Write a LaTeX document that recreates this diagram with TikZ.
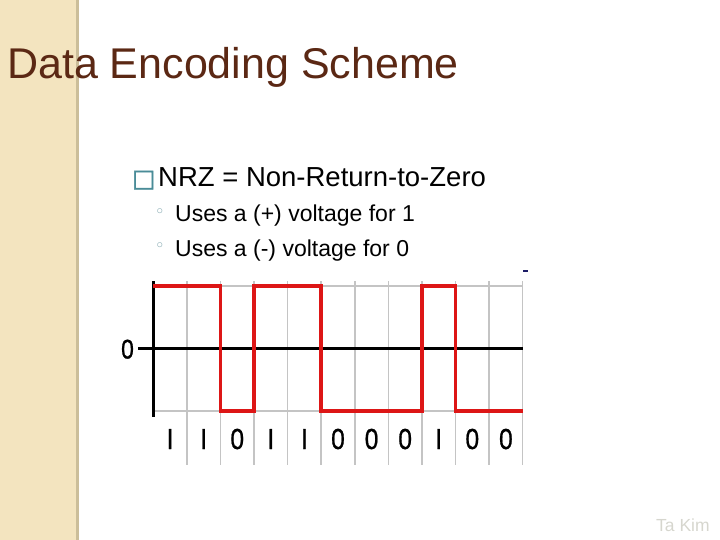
\documentclass[tikz,border=0pt]{standalone}
\usepackage{fontspec}
\setmainfont{Liberation Sans}
\newfontfamily\dejavu{DejaVu Sans}
\newfontfamily\dejavubold[FakeBold=1.5]{DejaVu Sans}
\newfontfamily\bitfont[FakeBold=0.9]{Liberation Sans}
\definecolor{barfill}{HTML}{F3E4BF}
\definecolor{baredge}{HTML}{CBBE9A}
\definecolor{titlebrown}{HTML}{5B2814}
\definecolor{boxteal}{HTML}{4A8C98}
\definecolor{bulletgrey}{HTML}{7FA4AC}
\definecolor{gridgrey}{HTML}{C4C4C4}
\definecolor{wavered}{HTML}{DD1616}
\definecolor{footgrey}{HTML}{D6D6CE}
\definecolor{dashnavy}{HTML}{1C1C66}
\tikzset{
  txt/.style={anchor=base west, inner sep=0pt},
  bittxt/.style={anchor=base, inner sep=0pt, xscale=0.85, font=\fontsize{29}{34}\bitfont},
  gridline/.style={gridgrey, line width=1.6pt},
  axisline/.style={black, line width=3.5pt},
  waveline/.style={wavered, line width=3.6pt, line join=miter},
}
\begin{document}
\begin{tikzpicture}[x=1pt,y=-1pt]
\useasboundingbox (0,0) rectangle (720,540);
% left bar
\fill[barfill] (0,0) rectangle (77,540);
\fill[baredge] (76,0) rectangle (79,540);
% title
\node[txt, font=\fontsize{43}{50}\selectfont, text=titlebrown] (title) at (7,79) {Data Encoding Scheme};
% bullet text
\node[txt, font=\fontsize{24.5}{28}\dejavubold, text=boxteal] (sq) at (132,186.5) {□};
\node[txt, font=\fontsize{27.5}{33}\selectfont] (nrz) at (158,187) {NRZ = Non-Return-to-Zero};
\node[inner sep=0pt, font=\fontsize{17}{20}\dejavu, text=bulletgrey] (bul1) at (160,213.5) {◦};
\node[inner sep=0pt, font=\fontsize{17}{20}\dejavu, text=bulletgrey] (bul2) at (160,247.5) {◦};
\node[txt, font=\fontsize{23}{28}\selectfont] (use1) at (175,222) {Uses a (+) voltage for 1};
\node[txt, font=\fontsize{23}{28}\selectfont] (use0) at (175,256) {Uses a (-) voltage for 0};
% waveform grid
\pgfmathsetmacro{\xa}{153.3}
\pgfmathsetmacro{\cw}{33.58}
\foreach \i in {1,...,11}{
  \draw[gridline] ({\xa+\i*\cw},281) -- ({\xa+\i*\cw},465);
}
\draw[gridline] (\xa,285.7) -- (522.7,285.7);
\draw[gridline] (\xa,410.7) -- (522.7,410.7);
% axes
\draw[axisline] (138,348.3) -- (522.7,348.3);
\draw[axisline] (\xa,281) -- (\xa,417);
\node[bittxt, font=\fontsize{27}{32}\bitfont] (zero) at (127.5,358.5) {0};
% NRZ wave
\draw[waveline] (\xa,285.7) -- ({\xa+2*\cw},285.7) -- ({\xa+2*\cw},410.7)
  -- ({\xa+3*\cw},410.7) -- ({\xa+3*\cw},285.7) -- ({\xa+5*\cw},285.7)
  -- ({\xa+5*\cw},410.7) -- ({\xa+8*\cw},410.7) -- ({\xa+8*\cw},285.7)
  -- ({\xa+9*\cw},285.7) -- ({\xa+9*\cw},410.7) -- (522.7,410.7);
% bits
\foreach \b [count=\i] in {I,I,0,I,I,0,0,0,I,0,0}{
  \node[bittxt] (bit\i) at ({\xa+(\i-0.5)*\cw},449) {\b};
}
% stray dash
\draw[dashnavy, line width=2pt] (523,271) -- (527.5,271);
% footer
\node[txt, font=\fontsize{17.5}{21}\selectfont, text=footgrey] (foot) at (656,531) {Ta Kim};
\end{tikzpicture}
\end{document}
